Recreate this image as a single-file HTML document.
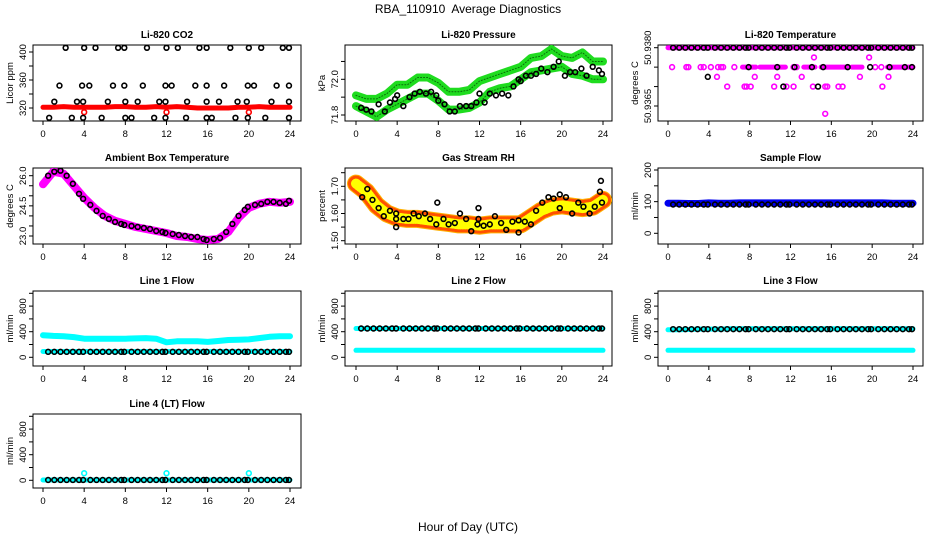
<!DOCTYPE html>
<html><head><meta charset="utf-8">
<style>
html,body{margin:0;padding:0;background:#fff;}
svg{display:block;font-family:"Liberation Sans",Arial,sans-serif;}
</style></head>
<body>
<svg id="c" width="936" height="540" viewBox="0 0 936 540">
<text x="468" y="13" text-anchor="middle" font-size="12">RBA_110910&#160; Average Diagnostics</text>
<text x="468" y="531" text-anchor="middle" font-size="12">Hour of Day (UTC)</text>
</svg>
<script>
// ---- data ----
const hrs = [0.5,1.1,1.7,2.3,2.9,3.5,3.9,4.6,5.2,5.8,6.4,7.0,7.6,7.9,8.6,9.2,9.8,10.4,11.0,11.6,11.9,12.6,13.2,13.8,14.4,15.0,15.6,15.9,16.6,17.2,17.8,18.4,19.0,19.6,19.9,20.6,21.2,21.8,22.4,23.0,23.6,23.9];
const hrBand = [0,1,2,3,4,5,6,7,8,9,10,11,12,13,14,15,16,17,18,19,20,21,22,23,24];

const co2Band = [321,321,322,321,321,321,321,322,322,321,321,322,321,322,321,320,320,320,320,321,321,322,321,321,321];
const co2DipHours = [4,12,20];
const co2DipValues = [314,314,314];
const co2Hours = [2.2,4,5.1,7.3,7.9,10.1,12,13.1,15.2,15.9,18.2,20,21.2,23.3,23.9, 1.6,3.8,4.5,6.8,7.9,9.7,11.9,12.5,14.8,15.9,17.6,19.9,20.5,22.7,23.9, 1.1,3.3,3.9,6.3,8,9.2,11.3,11.9,14,15.9,17.1,18.9,19.8,22.2,23.9, 0.6,2.8,3.9,5.7,8,8.6,10.8,11.9,13.9,15.9,16.4,18.7,19.9,21.6,23.9];
const co2Values = [406,406,406,406,406,406,406,406,406,406,406,406,406,406,406, 352,352,352,352,352,352,352,352,352,352,352,352,352,352,352, 329,329,329,329,329,329,329,329,329,329,329,329,329,329,329, 306,306,306,306,306,306,306,306,306,306,306,306,306,306,306];

const presUpper = [71.91,71.89,71.89,71.92,71.97,71.97,72.01,72.01,71.98,71.93,71.93,71.94,71.99,72.01,72.03,72.05,72.07,72.12,72.13,72.17,72.13,72.12,72.15,72.10,72.10];
const presLower = [71.85,71.82,71.79,71.83,71.86,71.89,71.92,71.92,71.88,71.83,71.83,71.84,71.87,71.93,71.95,71.96,72.00,72.04,72.05,72.06,72.07,72.03,72.02,72.00,72.00];
const presHours = [0.5,1,1.5,2.2,2.8,3.3,3.8,4,4.6,5.2,5.7,6.2,6.8,7.3,7.8,8,8.6,9.1,9.6,10.1,10.7,11.2,11.7,12,12.5,13,13.6,14.2,14.8,15.3,15.8,16,16.5,17,17.5,18,18.6,19.2,19.7,20.3,20.8,21.3,21.9,22.4,23,23.6,23.9];
const presValues = [71.84,71.83,71.82,71.86,71.82,71.87,71.89,71.91,71.85,71.90,71.92,71.93,71.92,71.93,71.91,71.88,71.86,71.82,71.82,71.85,71.85,71.85,71.87,71.92,71.87,71.92,71.91,71.92,71.91,71.96,72.00,71.99,72.02,72.02,72.03,72.06,72.04,72.07,72.10,72.02,72.04,72.04,72.06,72.02,72.07,72.05,72.03];

const tempMagHours = [0.4,1.8,2,3.2,3.5,4.2,4.9,5.2,5.4,6.5,12.3,12.6,20.3,20.9, 4.8,8.5,10.7,13.1,18.8,21.6, 5.8,7.5,7.7,8.1,10.4,11.6,12.3,14.2,15.4,15.6,16.7,17.1,21, 14.3,19.7,15.4];
const tempMagValues = [50.9375,50.9375,50.9375,50.9375,50.9375,50.9375,50.9375,50.9375,50.9375,50.9375,50.9375,50.9375,50.9375,50.9375, 50.93725,50.93725,50.93725,50.93725,50.93725,50.93725, 50.9370,50.9370,50.9370,50.9370,50.9370,50.9370,50.9370,50.9370,50.9370,50.9370,50.9370,50.9370,50.9370, 50.93775,50.93775,50.9363];
const tempSegStart = [7.3,9.0,13.3,15.0,18.0,21.5];
const tempSegEnd = [8.6,11.5,14.4,17.6,19.0,24.0];
const tempBlkHours = [7.9,10.7,12.4,14.1,15.2,17.6,19.8,21.7,23.2,23.9,3.9,11.3,14.7];
const tempBlkValues = [50.9375,50.9375,50.9375,50.9375,50.9375,50.9375,50.9375,50.9375,50.9375,50.9375,50.93725,50.9370,50.9370];

const ambBand = [25.57,26.2,26.1,25.5,24.9,24.4,24.0,23.75,23.6,23.45,23.35,23.25,23.15,23.0,22.95,22.85,22.8,22.85,23.2,23.9,24.4,24.6,24.7,24.65,24.7];
const ambValues = [26.0,26.2,26.25,26.0,25.6,25.1,24.85,24.55,24.25,24.0,23.85,23.7,23.6,23.55,23.5,23.45,23.4,23.35,23.25,23.2,23.15,23.1,23.05,23.0,22.95,22.95,22.85,22.8,22.85,22.9,23.2,23.6,24.0,24.3,24.45,24.55,24.6,24.7,24.7,24.65,24.6,24.75];

const rhBand = [1.71,1.68,1.63,1.60,1.585,1.58,1.58,1.575,1.57,1.565,1.56,1.56,1.555,1.56,1.56,1.56,1.56,1.585,1.61,1.625,1.63,1.625,1.62,1.625,1.65];
const rhHours = [0.6,1.1,1.6,2.2,2.7,3.3,3.9,3.9,3.9,4.6,5.1,5.6,6.1,6.7,7.2,7.8,7.9,8.5,9.0,9.6,10.1,10.7,11.2,11.8,11.9,11.9,12.4,13,13.5,14.1,14.6,15.2,15.8,15.8,16.4,17,17.5,18.1,18.7,19.2,19.8,19.8,20.4,21,21.6,22.1,22.7,23.2,23.7,23.8,23.9];
const rhValues = [1.66,1.69,1.65,1.62,1.59,1.61,1.60,1.58,1.55,1.58,1.58,1.60,1.59,1.60,1.58,1.56,1.64,1.58,1.56,1.565,1.60,1.58,1.535,1.56,1.62,1.58,1.555,1.56,1.59,1.565,1.54,1.57,1.575,1.53,1.57,1.56,1.61,1.64,1.66,1.655,1.62,1.67,1.66,1.60,1.64,1.625,1.60,1.625,1.68,1.72,1.64];

const sampleBand = [95,95,94,94,96,95,95,96,96,96,96,96,96,96,96,96,96,96,96,96,96,96,95,95,95];
const sampleLevel = 91;
const line1Upper = [345,335,330,315,290,290,290,290,290,295,300,290,235,250,250,250,240,255,270,275,280,300,320,330,330];
const line1Lower = [90,90,90,90,90,90,90,90,90,90,90,90,90,90,90,90,90,90,90,90,90,90,90,90,90];
const line1Black = 85;
const line2Upper = [450,450,450,450,450,450,450,450,450,450,450,450,450,450,450,450,450,450,450,450,450,450,450,450,450];
const line2Lower = [110,110,110,110,110,110,110,110,110,110,110,110,110,110,110,110,110,110,110,110,110,110,110,110,110];
const line2Black = 450;
const line3Upper = [430,430,435,440,440,440,445,445,445,445,445,445,445,445,445,445,445,445,445,445,445,445,445,445,445];
const line3Lower = [110,110,110,110,110,110,110,110,110,110,110,110,110,110,110,110,110,110,110,110,110,110,110,110,110];
const line3Black = 440;
const line4Band = [5,5,5,5,5,5,5,5,5,5,5,5,5,5,5,5,5,5,5,5,5,5,5,5,5];
const line4SpikeHours = [4,12,20];
const line4SpikeValues = [110,110,110];
const line4Black = 5;

// ---- layout ----
const NS = "http://www.w3.org/2000/svg";
const svg = document.getElementById('c');
const cols = [{l:33,r:301,x0:43,x24:290},{l:345,r:612,x0:356,x24:603},{l:658,r:923,x0:668,x24:913}];
const rows = [{t:45,b:121},{t:168,b:244},{t:291,b:366},{t:414,b:488}];
const xTicks = [0,4,8,12,16,20,24];

function el(tag, attrs, parent){
  const e = document.createElementNS(NS, tag);
  for (const k in attrs) e.setAttribute(k, attrs[k]);
  (parent||svg).appendChild(e);
  return e;
}

function makePanel(name, ci, ri, title, ytitle, v1, p1, v2, p2, ticks, labels){
  const c = cols[ci], r = rows[ri];
  const g = el('g', {});
  
  
  const P = {g:g, c:c, r:r,
    x: h => c.x0 + (c.x24 - c.x0) * h / 24,
    y: v => p1 + (v - v1) * (p2 - p1) / (v2 - v1)};
  const box = el('rect', {x:c.l, y:r.t, width:c.r-c.l, height:r.b-r.t, fill:'none', stroke:'#000', 'stroke-width':1}, g);
  
  
  const t = el('text', {x:(c.l+c.r)/2, y:r.t-7, 'text-anchor':'middle', 'font-size':10, 'font-weight':'bold'}, g);
  t.textContent = title;
  
  
  const xa = el('g', {}, g);
  
  
  el('line', {x1:P.x(0), x2:P.x(24), y1:r.b, y2:r.b, stroke:'#000'}, xa);
  xTicks.forEach(h => {
    el('line', {x1:P.x(h), x2:P.x(h), y1:r.b, y2:r.b+4, stroke:'#000'}, xa);
    const tl = el('text', {x:P.x(h), y:r.b+16, 'text-anchor':'middle', 'font-size':9.5}, xa);
    tl.textContent = h;
    
    
  });
  const ya = el('g', {}, g);
  
  
  const ys = ticks.map(P.y);
  el('line', {x1:c.l, x2:c.l, y1:Math.min(...ys), y2:Math.max(...ys), stroke:'#000'}, ya);
  ticks.forEach(v => el('line', {x1:c.l-4, x2:c.l, y1:P.y(v), y2:P.y(v), stroke:'#000'}, ya));
  labels.forEach(lab => {
    const yy = P.y(parseFloat(lab));
    const tl = el('text', {x:c.l-7, y:yy, 'text-anchor':'middle', 'font-size':9.5, transform:`rotate(-90 ${c.l-7} ${yy})`}, ya);
    tl.textContent = lab;
    
    
  });
  const yt = el('text', {x:c.l-20, y:(r.t+r.b)/2, 'text-anchor':'middle', 'font-size':9.5, transform:`rotate(-90 ${c.l-20} ${(r.t+r.b)/2})`}, g);
  yt.textContent = ytitle;
  
  
  const clip = el('clipPath', {id:'clip-'+name}, g);
  el('rect', {x:c.l, y:r.t, width:c.r-c.l, height:r.b-r.t}, clip);
  P.data = el('g', {'clip-path':'url(#clip-'+name+')'}, g);
  return P;
}

function band(P, xs, vs, color, w, nm){
  const d = xs.map((h,i) => (i?'L':'M') + P.x(h).toFixed(1) + ' ' + P.y(vs[i]).toFixed(1)).join(' ');
  const p = el('path', {d:d, fill:'none', stroke:color, 'stroke-width':w, 'stroke-linejoin':'round', 'stroke-linecap':'round'}, P.data);
  
  
  return p;
}
function pts(P, xs, vs, color, nm, r){
  xs.forEach((h,i) => {
    const cc = el('circle', {cx:P.x(h), cy:P.y(vs[i]), r:r||2.4, fill:'none', stroke:color, 'stroke-width':1.6}, P.data);
    
    
  });
}
const flat = (n, v) => hrs.map(() => v);

let P = makePanel('co2', 0, 0, 'Li-820 CO2', 'Licor ppm', 320, 108, 400, 52, [320,340,360,380,400], ['320','360','400']);
band(P, hrBand, co2Band, '#f00', 5, 'co2-band');
pts(P, co2DipHours, co2DipValues, '#f00', 'co2-red-point');
pts(P, co2Hours, co2Values, '#000', 'co2-point');

P = makePanel('pressure', 1, 0, 'Li-820 Pressure', 'kPa', 71.8, 115, 72.0, 79.3, [71.8,71.9,72.0,72.1], ['71.8','72.0']);
band(P, hrBand, presUpper, '#1fdc1f', 8, 'pressure-band-upper');
band(P, hrBand, presLower, '#1fdc1f', 8, 'pressure-band-lower');
band(P, hrBand, presUpper, '#0a6a0a', 1, 'pressure-band-upper-core').setAttribute('stroke-dasharray','1 2');
band(P, hrBand, presLower, '#0a6a0a', 1, 'pressure-band-lower-core').setAttribute('stroke-dasharray','1 2');
pts(P, presHours, presValues, '#000', 'pressure-point');

P = makePanel('li820-temp', 2, 0, 'Li-820 Temperature', 'degrees C', 50.9365, 106, 50.9380, 47.7, [50.9365,50.9370,50.9375,50.9380], ['50.9365','50.9380']);
band(P, [0,24], [50.9380,50.9380], '#f0f', 5, 'temp-band-top');
tempSegStart.forEach((s,i) => band(P, [s, tempSegEnd[i]], [50.9375,50.9375], '#f0f', 5, 'temp-band-segment'));
pts(P, tempMagHours, tempMagValues, '#f0f', 'temp-magenta-point');
pts(P, hrs, flat(0, 50.9380), '#000', 'temp-point');
pts(P, tempBlkHours, tempBlkValues, '#000', 'temp-point');

P = makePanel('ambient', 0, 1, 'Ambient Box Temperature', 'degrees C', 23.0, 236, 26.0, 175.7, [23.0,23.5,24.0,24.5,25.0,25.5,26.0], ['23.0','24.5','26.0']);
band(P, hrBand, ambBand, '#f0f', 8, 'ambient-band');
pts(P, hrs, ambValues, '#000', 'ambient-point');

P = makePanel('rh', 1, 1, 'Gas Stream RH', 'percent', 1.50, 240.7, 1.70, 186.3, [1.50,1.55,1.60,1.65,1.70,1.75], ['1.50','1.60','1.70']);
band(P, hrBand, rhBand, '#ffb000', 18, 'rh-band');
band(P, hrBand, rhBand, '#ff5000', 16, 'rh-band-speckle').setAttribute('stroke-dasharray','1 2');
band(P, hrBand, rhBand, '#ffff00', 10, 'rh-band-inner').setAttribute('stroke-dasharray','1 1.5');
pts(P, rhHours, rhValues, '#000', 'rh-point');

P = makePanel('sample-flow', 2, 1, 'Sample Flow', 'ml/min', 0, 233.3, 200, 170, [0,50,100,150,200], ['0','100','200']);
band(P, hrBand, sampleBand, '#0000ee', 7, 'sample-band');
pts(P, hrs, flat(0, sampleLevel), '#000', 'sample-point');

const flowTicks = [0,200,400,600,800,1000], flowLabels = ['0','400','800'];
P = makePanel('line1', 0, 2, 'Line 1 Flow', 'ml/min', 0, 357.3, 400, 331.7, flowTicks, flowLabels);
band(P, hrBand, line1Upper, '#00ffff', 6, 'line1-band-upper');
band(P, hrBand, line1Lower, '#00ffff', 5, 'line1-band-lower');
pts(P, hrs, flat(0, line1Black), '#000', 'line1-point');
P = makePanel('line2', 1, 2, 'Line 2 Flow', 'ml/min', 0, 357.3, 400, 331.7, flowTicks, flowLabels);
band(P, hrBand, line2Upper, '#00ffff', 5, 'line2-band-upper');
band(P, hrBand, line2Lower, '#00ffff', 5, 'line2-band-lower');
pts(P, hrs, flat(0, line2Black), '#000', 'line2-point');
P = makePanel('line3', 2, 2, 'Line 3 Flow', 'ml/min', 0, 357.3, 400, 331.7, flowTicks, flowLabels);
band(P, hrBand, line3Upper, '#00ffff', 5, 'line3-band-upper');
band(P, hrBand, line3Lower, '#00ffff', 5, 'line3-band-lower');
pts(P, hrs, flat(0, line3Black), '#000', 'line3-point');
P = makePanel('line4', 0, 3, 'Line 4 (LT) Flow', 'ml/min', 0, 480.3, 400, 454.7, flowTicks, flowLabels);
band(P, hrBand, line4Band, '#00ffff', 5, 'line4-band');
pts(P, line4SpikeHours, line4SpikeValues, '#00ffff', 'line4-spike');
pts(P, hrs, flat(0, line4Black), '#000', 'line4-point');
</script>
</body></html>
